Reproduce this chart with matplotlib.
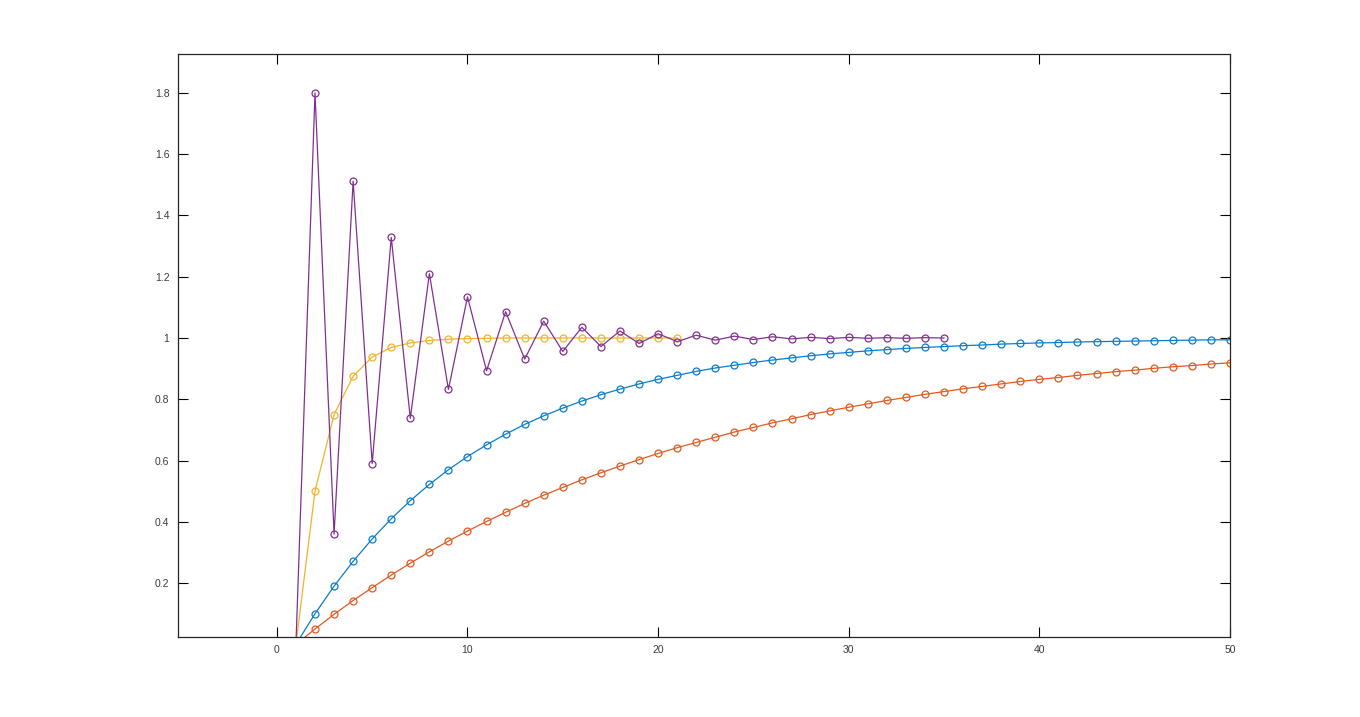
import matplotlib
matplotlib.use("Agg")
import matplotlib.pyplot as plt

plt.rcParams['font.family'] = ['Liberation Sans', 'DejaVu Sans']

# values
blue_x = list(range(1, 51))
blue_y = [0.0, 0.1, 0.19, 0.271, 0.344, 0.410, 0.469, 0.522, 0.570, 0.613,
          0.651, 0.686, 0.718, 0.746, 0.771, 0.794, 0.815, 0.833, 0.850, 0.865,
          0.878, 0.891, 0.902, 0.911, 0.920, 0.928, 0.935, 0.942, 0.948, 0.953,
          0.958, 0.962, 0.966, 0.969, 0.972, 0.975, 0.977, 0.980, 0.982, 0.984,
          0.985, 0.987, 0.988, 0.989, 0.990, 0.991, 0.992, 0.993, 0.994, 0.994]

orange_x = list(range(1, 51))
orange_y = [0.0, 0.05, 0.098, 0.143, 0.185, 0.226, 0.265, 0.302, 0.337, 0.370,
            0.401, 0.431, 0.460, 0.487, 0.512, 0.537, 0.560, 0.582, 0.603, 0.623,
            0.642, 0.659, 0.676, 0.693, 0.708, 0.723, 0.736, 0.750, 0.762, 0.774,
            0.785, 0.796, 0.806, 0.816, 0.825, 0.834, 0.842, 0.850, 0.858, 0.865,
            0.871, 0.878, 0.884, 0.890, 0.895, 0.901, 0.906, 0.910, 0.915, 0.919]

yellow_x = list(range(1, 22))
yellow_y = [0.0, 0.5, 0.75, 0.875, 0.938, 0.969, 0.984, 0.992, 0.996, 0.998,
            0.999, 1.0, 1.0, 1.0, 1.0, 1.0, 1.0, 1.0, 1.0, 1.0, 1.0]

purple_x = list(range(1, 36))
purple_y = [0.0, 1.8, 0.36, 1.512, 0.590, 1.328, 0.738, 1.210, 0.832, 1.134,
            0.893, 1.086, 0.931, 1.055, 0.956, 1.035, 0.972, 1.023, 0.982, 1.014,
            0.988, 1.009, 0.993, 1.006, 0.995, 1.004, 0.997, 1.002, 0.998, 1.002,
            0.999, 1.001, 0.999, 1.001, 1.0]

x_ticks = [0, 10, 20, 30, 40, 50]
y_ticks = [0.2, 0.4, 0.6, 0.8, 1.0, 1.2, 1.4, 1.6, 1.8]
y_labels = ["0.2", "0.4", "0.6", "0.8", "1", "1.2", "1.4", "1.6", "1.8"]

series = [
    (blue_x, blue_y, "#0a7ccc"),
    (orange_x, orange_y, "#e05a20"),
    (yellow_x, yellow_y, "#f0b428"),
    (purple_x, purple_y, "#82308f"),
]

fig = plt.figure(figsize=(13.6, 7.17), dpi=100)
ax = fig.add_axes([0.1307, 0.1116, 0.7737, 0.8131])

for xs, ys, c in series:
    ax.plot(xs, ys, color=c, lw=0.9, marker="o", markersize=5,
            markerfacecolor="none", markeredgecolor=c, markeredgewidth=0.9)

ax.set_xlim(-5.2, 50)
ax.set_ylim(0.024, 1.927)
ax.set_xticks(x_ticks)
ax.set_yticks(y_ticks)
ax.set_yticklabels(y_labels)

ax.tick_params(direction="in", length=7.5, width=0.8, top=True, right=True,
               labelsize=7.5, labelcolor="#3a3a3a", pad=6)
for s in ax.spines.values():
    s.set_linewidth(0.9)
    s.set_color("#262626")

fig.savefig("out.png", dpi=100)
